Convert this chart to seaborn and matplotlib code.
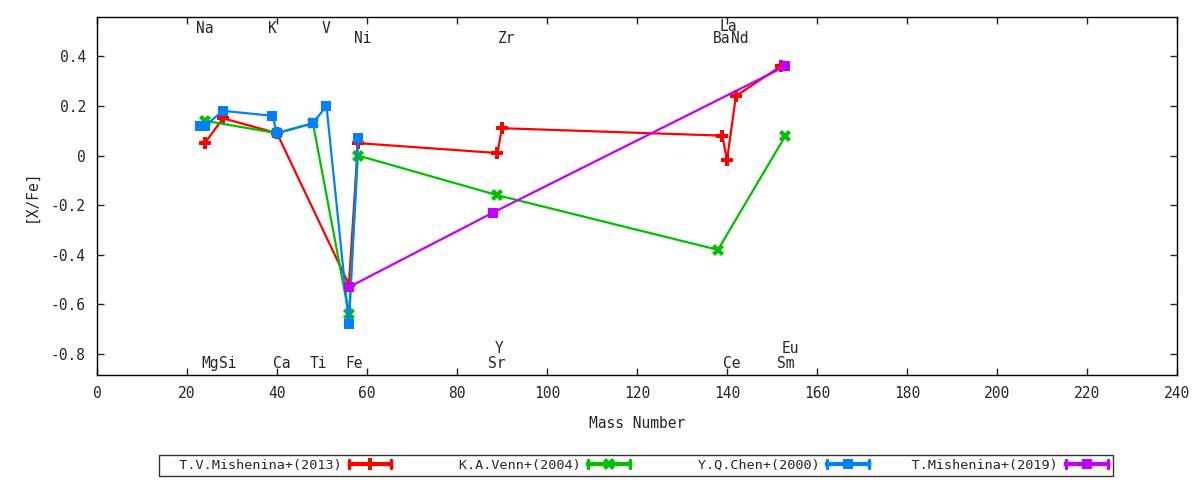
import numpy as np
import pandas as pd
import matplotlib
matplotlib.use("Agg")
import matplotlib.pyplot as plt
import seaborn as sns
from matplotlib.lines import Line2D
from matplotlib.legend_handler import HandlerBase

# [X/Fe] vs mass number
mish13_mass = [24, 28, 40, 56, 58, 89, 90, 139, 140, 142, 152]
mish13_xfe = [0.05, 0.15, 0.09, -0.52, 0.05, 0.01, 0.11, 0.08, -0.02, 0.24, 0.36]

venn_mass = [24, 40, 48, 56, 58, 89, 138, 153]
venn_xfe = [0.14, 0.09, 0.13, -0.64, 0.00, -0.16, -0.38, 0.08]

chen_mass = [23, 24, 28, 39, 40, 48, 51, 56, 58]
chen_xfe = [0.12, 0.12, 0.18, 0.16, 0.09, 0.13, 0.20, -0.68, 0.07]

mish19_mass = [56, 88, 153]
mish19_xfe = [-0.53, -0.23, 0.36]

series_names = ["T.V.Mishenina+(2013)", "K.A.Venn+(2004)", "Y.Q.Chen+(2000)", "T.Mishenina+(2019)"]

# element labels: (name, x, y)
top_labels = [("Na", 23.9, 0.513), ("K", 39.0, 0.513), ("V", 51.0, 0.513), ("La", 140.3, 0.518),
              ("Ni", 59.0, 0.473), ("Zr", 91.0, 0.473), ("Ba", 138.8, 0.473), ("Nd", 142.9, 0.473)]
bottom_labels = [("Mg", 25.1, -0.836), ("Si", 29.0, -0.836), ("Ca", 41.0, -0.836), ("Ti", 49.2, -0.836),
                 ("Fe", 57.1, -0.836), ("Sr", 88.8, -0.836), ("Ce", 141.0, -0.836), ("Sm", 153.1, -0.836),
                 ("Y", 89.4, -0.776), ("Eu", 154.2, -0.776)]


class ErrKeyHandler(HandlerBase):
    # gnuplot style key sample: |--marker--|
    def create_artists(self, legend, orig_handle, xdescent, ydescent, width, height, fontsize, trans):
        c = orig_handle.get_color()
        y = height / 2 - ydescent
        x0, x1 = -xdescent, width - xdescent
        cap = height * 0.45
        arts = [Line2D([x0, x1], [y, y], color=c, lw=3, solid_capstyle="butt"),
                Line2D([x0 + 1, x0 + 1], [y - cap, y + cap], color=c, lw=2.5),
                Line2D([x1 - 1, x1 - 1], [y - cap, y + cap], color=c, lw=2.5),
                Line2D([(x0 + x1) / 2], [y], color=c, marker=orig_handle.get_marker(),
                       markersize=orig_handle.get_markersize(), markeredgewidth=0, linestyle="none")]
        for a in arts:
            a.set_transform(trans)
        return arts


sns.set_style("ticks")
plt.rcParams['font.family'] = ['DejaVu Sans Mono', 'DejaVu Sans']
plt.rcParams['font.size'] = 10

fig = plt.figure(figsize=(12, 4.8), dpi=100)
ax = fig.add_axes([0.0808, 0.2188, 0.9, 0.7458])

colors = ["#ff0000", "#00c000", "#0080ff", "#c000ff"]
markers = ["P", "X", "s", "s"]
msizes = [8, 8, 7.5, 7.5]
data = [(mish13_mass, mish13_xfe), (venn_mass, venn_xfe), (chen_mass, chen_xfe), (mish19_mass, mish19_xfe)]

for (xs, ys), c, m, ms in zip(data, colors, markers, msizes):
    df = pd.DataFrame({"mass": xs, "xfe": ys})
    sns.lineplot(data=df, x="mass", y="xfe", sort=False, color=c, marker=m,
                 markersize=ms, markeredgewidth=0, linewidth=1.6, ax=ax, legend=False)

for name, x, y in top_labels + bottom_labels:
    ax.text(x, y, name, ha="center", va="center", fontsize=10.5)

ax.set_xlim(0, 240)
ax.set_ylim(-0.884, 0.558)
ax.set_xticks(np.arange(0, 241, 20))
ax.set_yticks([0.4, 0.2, 0, -0.2, -0.4, -0.6, -0.8])
ax.set_yticklabels(["0.4", "0.2", "0", "-0.2", "-0.4", "-0.6", "-0.8"])
ax.tick_params(direction="in", top=True, right=True, length=5, width=1, labelsize=10.5, pad=8)
for s in ax.spines.values():
    s.set_linewidth(1)
    s.set_color("black")
ax.set_xlabel("Mass Number", fontsize=10.5, labelpad=11)
ax.set_ylabel("[X/Fe]", fontsize=10.5, labelpad=9)

handles = [Line2D([], [], color=c, marker=m, markersize=ms) for c, m, ms in zip(colors, markers, msizes)]
labels = ["  " + n.rjust(20) for n in series_names]
leg = fig.legend(handles, labels, loc="center", bbox_to_anchor=(0.53, 0.031), ncol=4,
                 markerfirst=False, frameon=True, fancybox=False, handlelength=3.34,
                 handletextpad=0.45, columnspacing=0.67, borderpad=0.3, fontsize=9.7,
                 edgecolor="black", handler_map={Line2D: ErrKeyHandler()})
leg.get_frame().set_linewidth(1)

fig.savefig("out.png", dpi=100)
